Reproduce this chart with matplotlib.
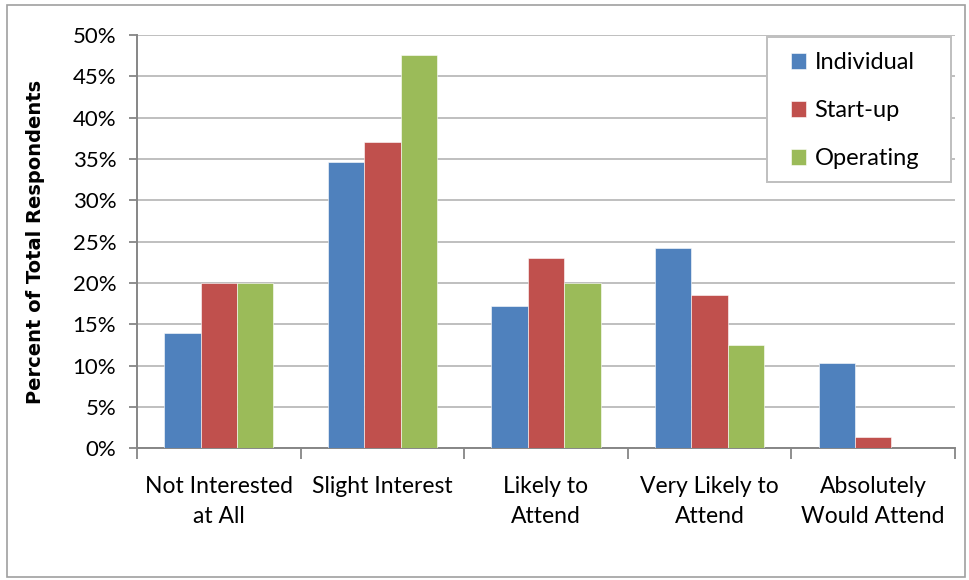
import matplotlib.pyplot as plt
import numpy as np
from matplotlib.patches import Rectangle
from matplotlib.ticker import FuncFormatter, MultipleLocator

plt.rcParams['font.family'] = ['Lato', 'DejaVu Sans']

categories = ['Not Interested\nat All', 'Slight Interest', 'Likely to\nAttend',
              'Very Likely to\nAttend', 'Absolutely\nWould Attend']
series_names = ['Individual', 'Start-up', 'Operating']
individual = [13.9, 34.6, 17.2, 24.2, 10.3]
startup = [20.0, 37.1, 23.0, 18.6, 1.4]
operating = [20.0, 47.6, 20.0, 12.55, 0.0]
colors = ['#4F81BD', '#C0504D', '#9BBB59']

fig = plt.figure(figsize=(9.69, 5.8), dpi=100)
ax = fig.add_axes([0.1414, 0.2271, 0.8442, 0.7126])

x = np.arange(len(categories))
w = 1 / 4.5
for i, (vals, name, c) in enumerate(zip([individual, startup, operating], series_names, colors)):
    ax.bar(x + (i - 1) * w, vals, width=w, color=c, label=name,
           edgecolor='white', linewidth=0.4, zorder=3)

ax.set_xlim(-0.5, len(categories) - 0.5)
ax.set_ylim(0, 50)
ax.yaxis.set_major_locator(MultipleLocator(5))
ax.yaxis.set_major_formatter(FuncFormatter(lambda v, p: f'{v:.0f}%'))
ax.grid(axis='y', color='#BFBFBF', linewidth=1.4, zorder=0)
ax.set_axisbelow(True)

# category boundaries get the tick marks, labels sit at the centres
ax.set_xticks(np.arange(-0.5, len(categories)), labels=[''] * (len(categories) + 1))
ax.set_xticks(x, labels=categories, minor=True)
ax.tick_params(axis='x', which='major', length=8, width=1.3, color='#868686', direction='out')
ax.tick_params(axis='x', which='minor', length=0, pad=20, labelsize=16.5)
ax.tick_params(axis='y', length=6, width=1.3, color='#868686', direction='out', labelsize=16, pad=9)
for lbl in ax.get_xticklabels(minor=True):
    lbl.set_linespacing(1.55)

for s in ['top', 'right']:
    ax.spines[s].set_visible(False)
for s in ['left', 'bottom']:
    ax.spines[s].set_color('#868686')
    ax.spines[s].set_linewidth(1.4)

ax.set_ylabel('Percent of Total Respondents', fontsize=14, fontweight='bold',
              family=['DejaVu Sans'])
ax.yaxis.set_label_coords(-0.1125, 0.5)

leg = fig.legend(loc='upper left', bbox_to_anchor=(791 / 969, 1 - 52 / 580),
                 fontsize=17, frameon=False,
                 handlelength=0.65, handleheight=0.65, handletextpad=0.35,
                 labelspacing=1.15, borderpad=0, borderaxespad=0)

# legend box and outer chart-area border
fig.patches.append(Rectangle((767 / 969, 1 - 182 / 580), 184 / 969, 145 / 580,
                             transform=fig.transFigure, facecolor='white',
                             edgecolor='#BFBFBF', linewidth=1.4, zorder=0.5))
fig.patches.append(Rectangle((7 / 969, 3 / 580), 958 / 969, 572 / 580,
                             transform=fig.transFigure, fill=False,
                             edgecolor='#A0A0A0', linewidth=1.2))

plt.savefig('out.png', dpi=100)
